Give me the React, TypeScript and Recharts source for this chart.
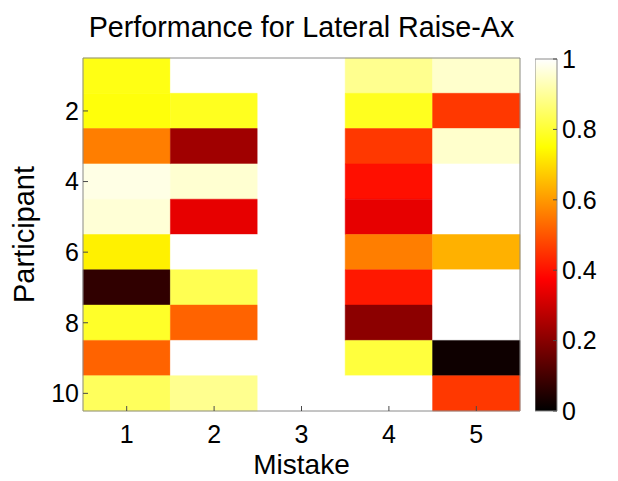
import {
  ScatterChart,
  Scatter,
  XAxis,
  YAxis,
  ReferenceArea,
  Label,
  BarChart,
  Bar,
} from "recharts";

const mistakes = [1, 2, 3, 4, 5];
const participants = [1, 2, 3, 4, 5, 6, 7, 8, 9, 10];

// score per participant (1..10) for each mistake
const mistake1Scores = [0.77, 0.76, 0.56, 0.975, 0.96, 0.73, 0.07, 0.79, 0.52, 0.84];
const mistake2Scores = [1, 0.78, 0.235, 0.955, 0.34, 1, 0.83, 0.52, 1, 0.89];
const mistake3Scores = [1, 1, 1, 1, 1, 1, 1, 1, 1, 1];
const mistake4Scores = [0.89, 0.78, 0.457, 0.397, 0.34, 0.56, 0.41, 0.206, 0.81, 1];
const mistake5Scores = [0.95, 0.457, 0.95, 1, 1, 0.635, 1, 1, 0.02, 0.457];

const xTicks = [1, 2, 3, 4, 5];
const yTicks = [2, 4, 6, 8, 10];
const colorbarTicks = [0, 0.2, 0.4, 0.6, 0.8, 1];
const colorbarLevel = [{ level: 1 }];

const scoreColumns = [mistake1Scores, mistake2Scores, mistake3Scores, mistake4Scores, mistake5Scores];

const FONT = '"Liberation Sans", Arial, Helvetica, sans-serif';
const AXIS_GRAY = "#8a8a8a";
const TICK_GRAY = "#4a4a4a";

// black -> red -> yellow -> white
const hot = (v: number) => {
  const clamp = (t: number) => Math.max(0, Math.min(1, t));
  const r = Math.round(255 * clamp(v / 0.375));
  const g = Math.round(255 * clamp((v - 0.375) / 0.375));
  const b = Math.round(255 * clamp((v - 0.75) / 0.25));
  return `rgb(${r},${g},${b})`;
};

const cells = mistakes.flatMap((m, i) =>
  participants.map((p, j) => ({ mistake: m, participant: p, score: scoreColumns[i][j] }))
);

const tickStyle = { fill: "#000", fontSize: 25, fontFamily: FONT };

const Heatmap = () => (
  <ScatterChart
    width={618}
    height={481}
    margin={{ top: 58, right: 98, bottom: 0, left: 0 }}
    style={{ fontFamily: FONT }}
  >
    <XAxis
      xAxisId="x"
      type="number"
      dataKey="mistake"
      domain={[0.5, 5.5]}
      ticks={xTicks}
      height={70}
      tickSize={-5}
      tickMargin={19}
      tick={tickStyle}
      axisLine={{ stroke: AXIS_GRAY }}
      tickLine={{ stroke: TICK_GRAY }}
    >
      <Label value="Mistake" position="insideBottom" offset={7} fontSize={28} fill="#000" fontFamily={FONT} />
    </XAxis>
    <XAxis
      xAxisId="xt"
      orientation="top"
      type="number"
      domain={[0.5, 5.5]}
      ticks={xTicks}
      height={1}
      mirror
      tickSize={5}
      tick={false}
      axisLine={{ stroke: AXIS_GRAY }}
      tickLine={{ stroke: TICK_GRAY }}
    >
      <Label
        value="Performance for Lateral Raise-Ax"
        position="top"
        offset={21}
        fontSize={28.7}
        fill="#000"
        fontFamily={FONT}
      />
    </XAxis>
    <YAxis
      yAxisId="y"
      type="number"
      dataKey="participant"
      domain={[0.5, 10.5]}
      reversed
      ticks={yTicks}
      width={83}
      tickSize={-5}
      tickMargin={9}
      tick={tickStyle}
      axisLine={{ stroke: AXIS_GRAY }}
      tickLine={{ stroke: TICK_GRAY }}
    >
      <Label
        value="Participant"
        angle={-90}
        position="insideLeft"
        offset={24}
        fontSize={29}
        fill="#000"
        fontFamily={FONT}
        style={{ textAnchor: "middle" }}
      />
    </YAxis>
    <YAxis
      yAxisId="yr"
      orientation="right"
      type="number"
      domain={[0.5, 10.5]}
      reversed
      ticks={yTicks}
      width={1}
      mirror
      tickSize={5}
      tick={false}
      axisLine={{ stroke: AXIS_GRAY }}
      tickLine={{ stroke: TICK_GRAY }}
    />
    {cells.map((c) => (
      <ReferenceArea
        key={`${c.mistake}-${c.participant}`}
        xAxisId="x"
        yAxisId="y"
        x1={c.mistake - 0.5}
        x2={c.mistake + 0.5}
        y1={c.participant - 0.5}
        y2={c.participant + 0.5}
        fill={hot(c.score)}
        fillOpacity={1}
        stroke={hot(c.score)}
        strokeWidth={0.5}
        ifOverflow="visible"
      />
    ))}
    <Scatter
      xAxisId="x"
      yAxisId="y"
      data={cells}
      shape={() => <g />}
      isAnimationActive={false}
    />
  </ScatterChart>
);

const Colorbar = () => (
  <BarChart
    width={83}
    height={481}
    data={colorbarLevel}
    margin={{ top: 59, right: 0, bottom: 70, left: 0 }}
    barCategoryGap={0}
    style={{ fontFamily: FONT }}
  >
    <defs>
      <linearGradient id="hotScale" x1="0" y1="1" x2="0" y2="0">
        <stop offset="0%" stopColor="#000000" />
        <stop offset="37.5%" stopColor="#ff0000" />
        <stop offset="75%" stopColor="#ffff00" />
        <stop offset="100%" stopColor="#ffffff" />
      </linearGradient>
    </defs>
    <XAxis hide />
    <YAxis
      yAxisId="l"
      orientation="left"
      type="number"
      domain={[0, 1]}
      ticks={colorbarTicks}
      width={1}
      mirror
      tickSize={4}
      tick={false}
      axisLine={false}
      tickLine={{ stroke: TICK_GRAY }}
    />
    <YAxis
      yAxisId="r"
      orientation="right"
      type="number"
      domain={[0, 1]}
      ticks={colorbarTicks}
      width={61}
      tickSize={-4}
      tickMargin={9}
      tick={tickStyle}
      axisLine={false}
      tickLine={{ stroke: TICK_GRAY }}
    />
    <Bar
      yAxisId="r"
      dataKey="level"
      fill="url(#hotScale)"
      stroke={AXIS_GRAY}
      strokeWidth={1}
      isAnimationActive={false}
    />
  </BarChart>
);

export default function App() {
  return (
    <div style={{ position: "absolute", left: 0, top: 0, width: 618, height: 481, background: "#fff" }}>
      <Heatmap />
      <div style={{ position: "absolute", left: 535, top: 0 }}>
        <Colorbar />
      </div>
    </div>
  );
}
